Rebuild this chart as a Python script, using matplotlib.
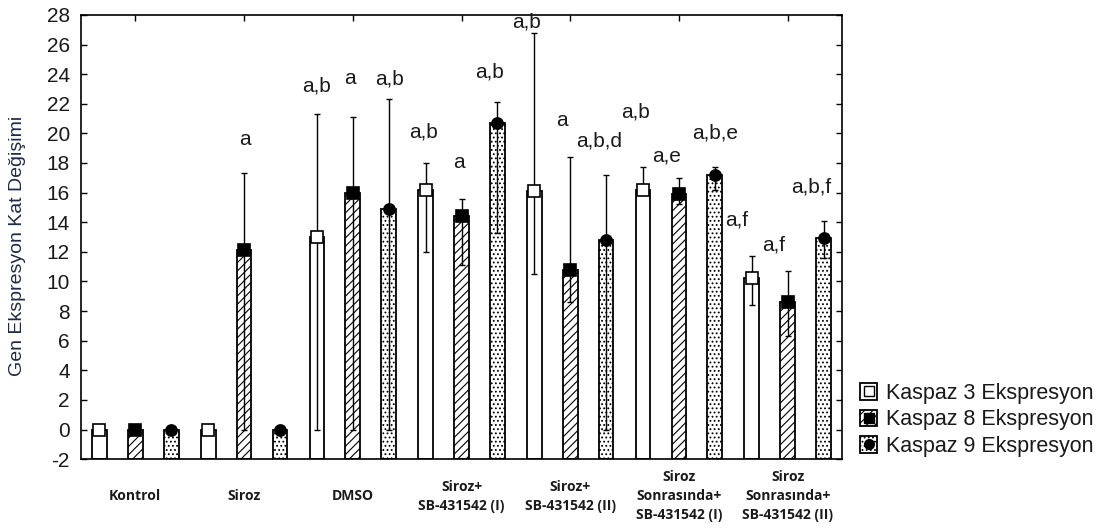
import numpy as np
import matplotlib.pyplot as plt
from matplotlib.patches import Patch
from matplotlib.lines import Line2D
from matplotlib.legend_handler import HandlerTuple

plt.rcParams['font.family'] = ['Liberation Sans', 'DejaVu Sans']
plt.rcParams['hatch.linewidth'] = 0.8
plt.rcParams['axes.unicode_minus'] = False

groups = ['Kontrol', 'Siroz', 'DMSO', 'Siroz+\nSB-431542 (I)', 'Siroz+\nSB-431542 (II)',
          'Siroz\nSonrasında+\nSB-431542 (I)', 'Siroz\nSonrasında+\nSB-431542 (II)']
series = ['Kaspaz 3 Ekspresyon', 'Kaspaz 8 Ekspresyon', 'Kaspaz 9 Ekspresyon']

# means and error bar ends (lower / upper)
k3_mean = [0, 0, 13.0, 16.2, 16.1, 16.2, 10.2]
k3_low = [0, 0, 0, 12.0, 10.5, 16.2, 8.4]
k3_high = [0, 0, 21.3, 18.0, 26.8, 17.75, 11.7]

k8_mean = [0, 12.1, 16.0, 14.4, 10.8, 15.9, 8.6]
k8_low = [0, 0, 0, 11.1, 8.6, 15.2, 6.3]
k8_high = [0, 17.35, 21.1, 15.6, 18.4, 17.0, 10.7]

k9_mean = [0, 0, 14.9, 20.7, 12.8, 17.2, 12.9]
k9_low = [0, 0, 0, 13.25, 0, 16.2, 11.6]
k9_high = [0, 0, 22.3, 22.1, 17.2, 17.75, 14.1]

# significance letters
k3_sig = ['', '', 'a,b', 'a,b', 'a,b', 'a,b', 'a,f']
k8_sig = ['', 'a', 'a', 'a', 'a', 'a,e', 'a,f']
k9_sig = ['', '', 'a,b', 'a,b', 'a,b,d', 'a,b,e', 'a,b,f']

# where the letters sit (x offset from group centre, y value)
k3_sig_dx = [0, 0, -0.33, -0.35, -0.40, -0.40, -0.47]
k3_sig_y = [0, 0, 23.2, 20.1, 27.5, 21.45, 14.15]
k8_sig_dx = [0, 0.01, -0.03, -0.02, -0.08, -0.11, -0.13]
k8_sig_y = [0, 19.56, 23.7, 18.0, 20.9, 18.5, 12.45]
k9_sig_dx = [0, 0, 0.34, 0.26, 0.27, 0.33, 0.22]
k9_sig_y = [0, 0, 23.7, 24.15, 19.5, 20.0, 16.4]

means = [k3_mean, k8_mean, k9_mean]
lows = [k3_low, k8_low, k9_low]
highs = [k3_high, k8_high, k9_high]
sigs = [k3_sig, k8_sig, k9_sig]
sig_dx = [k3_sig_dx, k8_sig_dx, k9_sig_dx]
sig_y = [k3_sig_y, k8_sig_y, k9_sig_y]

offsets = [-0.33, 0.0, 0.33]
hatches = ['', '////', '....']
markers = ['s', 's', 'o']
mfaces = ['white', 'black', 'black']

fig = plt.figure(figsize=(11.05, 5.32), dpi=100)
ax = fig.add_axes([0.0733, 0.137, 0.6887, 0.835])

x = np.arange(len(groups))
for i in range(3):
    xs = x + offsets[i]
    m = np.array(means[i], dtype=float)
    lo = np.array(lows[i], dtype=float)
    hi = np.array(highs[i], dtype=float)
    ax.bar(xs, m + 2, bottom=-2, width=0.135, facecolor='white', edgecolor='black',
           hatch=hatches[i], linewidth=1.3, zorder=2)
    has = hi > m
    ax.errorbar(xs[has], m[has], yerr=[m[has] - lo[has], hi[has] - m[has]], fmt='none',
                ecolor='black', elinewidth=1.0, capsize=2.5, capthick=1.0, zorder=3)
    ax.plot(xs, m, ls='none', marker=markers[i], ms=8, mfc=mfaces[i], mec='black',
            mew=1.2, zorder=4)
    for j, s in enumerate(sigs[i]):
        if s:
            ax.text(x[j] + sig_dx[i][j], sig_y[i][j], s, ha='center', va='center',
                    fontsize=15, color='#1a1a1a', zorder=5)

ax.set_xlim(-0.5, 6.5)
ax.set_ylim(-2, 28)
ax.set_yticks(np.arange(-2, 29, 2))
ax.tick_params(axis='y', direction='in', left=True, right=True, length=4, width=1,
               labelsize=15, pad=8, labelcolor='#1a1a1a')
ax.set_xticks(x)
ax.tick_params(axis='x', direction='in', top=True, bottom=False, labelbottom=False,
               length=4, width=1)
for sp in ax.spines.values():
    sp.set_linewidth(1.2)

for j, g in enumerate(groups):
    ax.text(x[j], -0.084, g, transform=ax.get_xaxis_transform(), ha='center', va='center',
            fontsize=10, fontweight='bold', family='Open Sans', linespacing=1.45,
            color='#1a1a1a')

fig.text(18 / 1105, 0.5386, 'Gen Ekspresyon Kat Değişimi', rotation=90, ha='center',
         va='center', fontsize=14, color='#1f2a44')

handles = []
for i in range(3):
    p = Patch(facecolor='white', edgecolor='black', hatch=hatches[i], linewidth=1.3)
    mk = Line2D([], [], ls='none', marker=markers[i], ms=7, mfc=mfaces[i], mec='black')
    handles.append((p, mk))
fig.legend(handles, series, handler_map={tuple: HandlerTuple(ndivide=1, pad=0)},
           loc='center left', bbox_to_anchor=(860 / 1105, 1 - 420 / 532), frameon=False,
           fontsize=15.5, handlelength=0.8, handleheight=0.8, handletextpad=0.4,
           labelspacing=0.25, borderpad=0, borderaxespad=0, labelcolor='#1a1a1a')

fig.savefig('out.png', dpi=100)
